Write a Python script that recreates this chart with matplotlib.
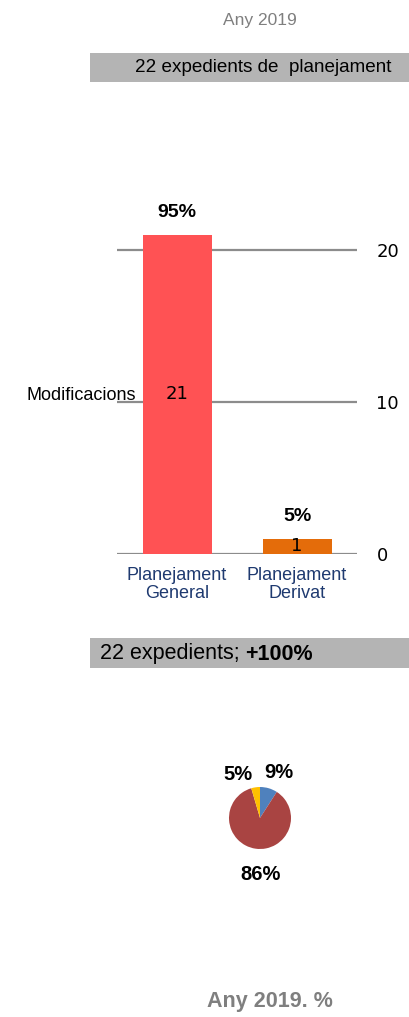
import matplotlib
matplotlib.use("Agg")
import matplotlib.pyplot as plt
from matplotlib.patches import Rectangle

# dades del planejament 2019
categories = ["Planejament\nGeneral", "Planejament\nDerivat"]
modificacions = [21, 1]
bar_colors = ["#FF5254", "#E46C0A"]

pie_values = [2, 19, 1]
pie_colors = ["#4F81BD", "#A94442", "#FFC000"]

total = sum(modificacions)
sans = "Liberation Sans"

W, H = 409, 1017
fig = plt.figure(figsize=(W / 100, H / 100), dpi=100)


def px(x, y):
    # coordenades en píxels (origen a dalt a l'esquerra) -> fracció de figura
    return x / W, 1 - y / H


# capçalera
fig.text(*px(260, 21), "Any 2019", ha="center", va="center", fontsize=12.5,
         color="#7f7f7f", family=sans)
fig.patches.append(Rectangle(px(90, 82), (W - 90) / W, 29 / H, transform=fig.transFigure,
                             facecolor="#b4b4b4", edgecolor="none"))
fig.text(*px(135, 68), "22 expedients de  planejament", ha="left", va="center",
         fontsize=13.6, color="black", family=sans)

# gràfic de barres
ax = fig.add_axes([117 / W, 463 / H, 240 / W, 380 / H])
x = range(len(categories))
bars = ax.bar(x, modificacions, width=0.575, color=bar_colors, zorder=2)
ax.set_xlim(-0.5, 1.5)
ax.set_ylim(0, 25)
for v in [0, 10, 20]:
    ax.axhline(v, color="#8c8c8c", lw=1.6, zorder=1)
for s in ax.spines.values():
    s.set_visible(False)
ax.set_yticks([0, 10, 20])
ax.yaxis.tick_right()
ax.tick_params(axis="y", length=0, pad=14, labelsize=13)
ax.set_xticks(list(x))
ax.set_xticklabels(categories, fontsize=13, color="#1F3A70", family=sans,
                   linespacing=1.15)
ax.tick_params(axis="x", length=0, pad=9)

for b, v in zip(bars, modificacions):
    cx = b.get_x() + b.get_width() / 2
    ax.text(cx, v / 2, str(v), ha="center", va="center", fontsize=13, color="black")
    ax.text(cx, v + 1.45, f"{round(100 * v / total)}%", ha="center", va="center",
            fontsize=14, fontweight="bold", family=sans)

fig.text(*px(27, 396), "Modificacions", ha="left", va="center", fontsize=13,
         family=sans)

# segona franja
fig.patches.append(Rectangle(px(90, 668), (W - 90) / W, 30 / H, transform=fig.transFigure,
                             facecolor="#b4b4b4", edgecolor="none"))
t = fig.text(*px(100, 654), "22 expedients; ", ha="left", va="center", fontsize=15.5,
             family=sans)
fig.canvas.draw()
bb = t.get_window_extent()
fig.text(bb.x1 / W, 1 - 654 / H, "+100%", ha="left", va="center", fontsize=15.5,
         fontweight="bold", family=sans)

# pastís
pax = fig.add_axes([229 / W, 168 / H, 62 / W, 62 / H])
pax.pie(pie_values, colors=pie_colors, startangle=90, counterclock=False, radius=1,
        wedgeprops=dict(linewidth=0))
pax.set_xlim(-1, 1)
pax.set_ylim(-1, 1)
pax.set_aspect("equal")
pax.axis("off")

psum = sum(pie_values)
pie_label_pos = [(279, 773), (261, 874), (238, 774)]
for v, (lx, ly) in zip(pie_values, pie_label_pos):
    fig.text(*px(lx, ly), f"{round(100 * v / psum)}%", ha="center", va="center",
             fontsize=14.5, fontweight="bold", family=sans)

fig.text(*px(270, 1001), "Any 2019. %", ha="center", va="center", fontsize=15.5,
         fontweight="bold", color="#7f7f7f", family=sans)

fig.savefig("out.png", dpi=100)
